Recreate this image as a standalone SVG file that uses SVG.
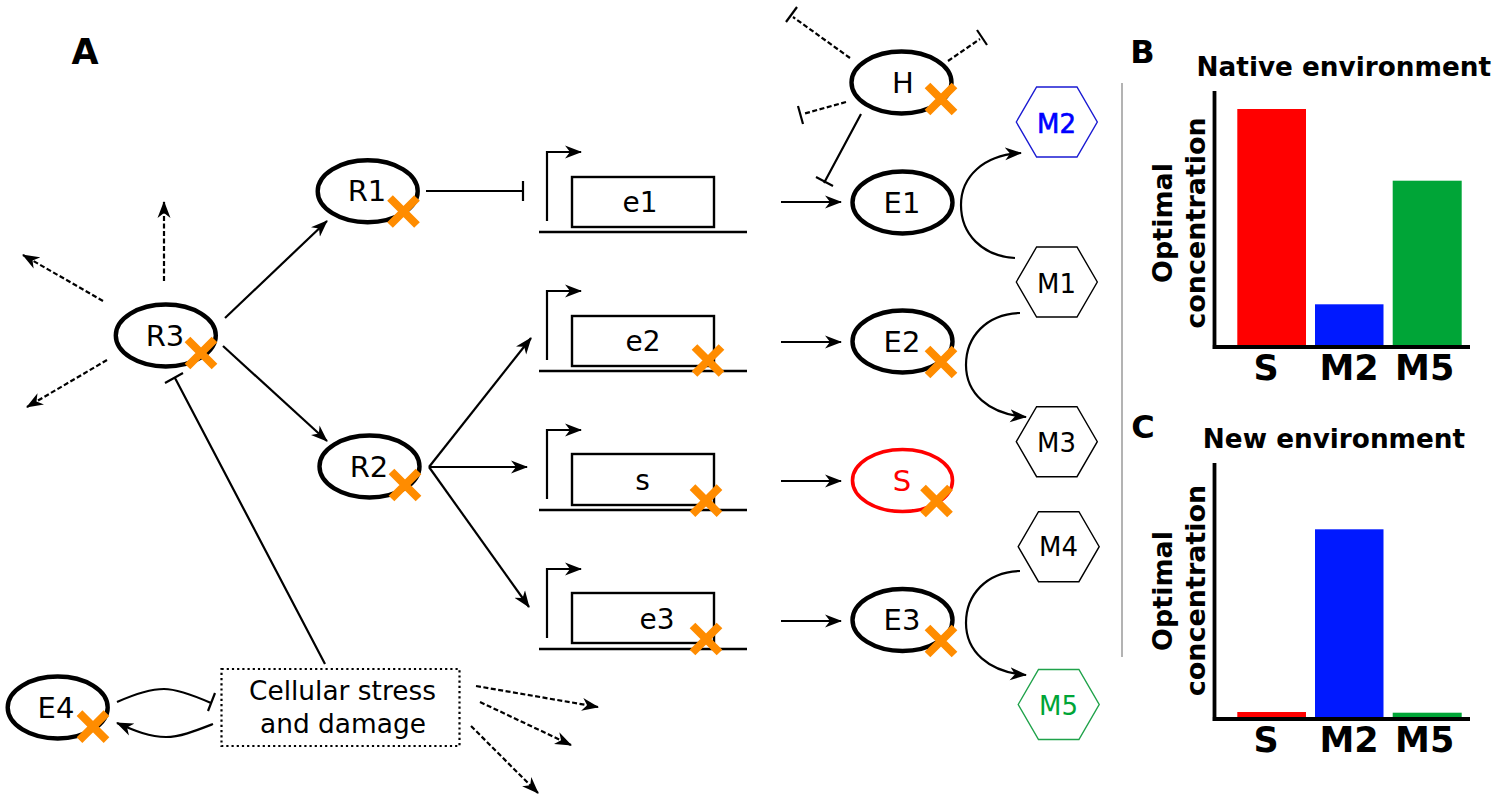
<svg xmlns="http://www.w3.org/2000/svg" width="1497" height="800" viewBox="0 0 1497 800">
<style>
text{font-family:"DejaVu Sans",sans-serif;text-anchor:middle;fill:#000}
.n{font-size:29px}
.m{font-size:26px}
.g{font-size:28px}
.b{font-weight:bold}
.h{font-size:26.300px;font-weight:bold}
.o{font-size:27px;font-weight:bold}
.l{font-size:35px;font-weight:bold}
.el{fill:#fff;stroke:#000;stroke-width:4.400}
.x{stroke:#ff8c00;stroke-width:8;fill:none}
.hex{fill:#fff;stroke:#000;stroke-width:1.400}
.c{fill:none;stroke:#000;stroke-width:2.200}
.d{fill:none;stroke:#000;stroke-width:2.200;stroke-dasharray:5 2.500}
.a{marker-end:url(#ar)}
.gene{fill:#fff;stroke:#000;stroke-width:2.400}
.base{stroke:#000;stroke-width:2.400}
.axis{fill:none;stroke:#000;stroke-width:3.800}
</style>
<defs>
<marker id="ar" viewBox="0 0 18 14" refX="16" refY="7" markerUnits="userSpaceOnUse" markerWidth="18" markerHeight="14" orient="auto"><path d="M0 0.5L17 7L0 13.5L5 7Z" fill="#000"/></marker>
<path id="cross" class="x" d="M-13.500-13.500L13.500 13.500M-13.500 13.500L13.500-13.500"/>
<path id="hx" d="M-40.500 0L-20.200-35H20.200L40.500 0L20.200 35H-20.200Z"/>
</defs>

<g id="connectors">
<path class="c a" d="M225 318L327 221"/>
<path class="c a" d="M223 346L327 441"/>
<path class="d a" d="M164 281V202"/>
<path class="d a" d="M103 301L23 255"/>
<path class="d a" d="M107 360L27 407"/>
<path class="c" d="M426 191H522M523 181V201"/>
<path class="c a" d="M429 467L531 338"/>
<path class="c a" d="M429 467H527"/>
<path class="c a" d="M429 467L529 607"/>
<path class="c a" d="M547 221V152H581"/>
<path class="c a" d="M547 360V291H581"/>
<path class="c a" d="M547 499V430H581"/>
<path class="c a" d="M547 638V569H581"/>
<path class="c a" d="M781 202H841"/>
<path class="c a" d="M781 342H841"/>
<path class="c a" d="M781 481H841"/>
<path class="c a" d="M781 621H841"/>
<path class="c" d="M861 114L824 183M816 177L833 186"/>
<path class="d" d="M850 58L793 17"/>
<path class="c" d="M797 7L786 22"/>
<path class="d" d="M948 61L980 39"/>
<path class="c" d="M977 30L987 45"/>
<path class="d" d="M846 102L803 114"/>
<path class="c" d="M798 106L803 124"/>
<path class="c a" d="M1015 258C982 256 961 234 961 205C961 177 983 155 1021 153"/>
<path class="c a" d="M1020 313C986 314 966 337 966 365C966 393 988 414 1026 417"/>
<path class="c a" d="M1020 571C986 572 966 595 966 623C966 651 988 672 1026 675"/>
<path class="c" d="M325 664L175 378M165 383L183 373"/>
<path class="c" d="M117 702C135 694 150 689 164 689C178 689 195 696 211 703M215 693L208 711"/>
<path class="c a" d="M213 724C195 731 180 737 166 737C150 737 135 731 117 723"/>
<path class="d a" d="M476 686L598 707"/>
<path class="d a" d="M480 702L571 745"/>
<path class="d a" d="M471 726L538 793"/>
</g>

<g id="node-R3"><ellipse class="el" cx="165.800" cy="335.500" rx="50" ry="31"/><text class="n" x="165" y="346">R3</text><use href="#cross" x="201" y="353"/></g>
<g id="node-R1"><ellipse class="el" cx="367.700" cy="191.300" rx="50" ry="31"/><text class="n" x="367" y="201">R1</text><use href="#cross" x="403.500" y="211.500"/></g>
<g id="node-R2"><ellipse class="el" cx="369.500" cy="466.500" rx="50" ry="31"/><text class="n" x="369" y="477">R2</text><use href="#cross" x="405" y="485"/></g>
<g id="node-H"><ellipse class="el" cx="901.500" cy="82.500" rx="50" ry="31"/><text class="n" x="903" y="93">H</text><use href="#cross" x="941" y="99"/></g>
<g id="node-E1"><ellipse class="el" cx="902.500" cy="202.500" rx="50" ry="31"/><text class="n" x="902" y="213">E1</text></g>
<g id="node-E2"><ellipse class="el" cx="902.500" cy="341.500" rx="50" ry="31"/><text class="n" x="902" y="352">E2</text><use href="#cross" x="941" y="362"/></g>
<g id="node-S"><ellipse class="el" cx="902.500" cy="480.500" rx="50" ry="31" style="stroke:#f00;stroke-width:3.600"/><text class="n" x="902" y="491" style="fill:#f00">S</text><use href="#cross" x="936.500" y="501"/></g>
<g id="node-E3"><ellipse class="el" cx="902.500" cy="620" rx="50" ry="31"/><text class="n" x="902" y="630">E3</text><use href="#cross" x="941" y="641"/></g>
<g id="node-E4"><ellipse class="el" cx="57.700" cy="707.500" rx="50" ry="31"/><text class="n" x="56" y="718">E4</text><use href="#cross" x="93" y="726.700"/></g>

<g id="gene-e1"><rect class="gene" x="572" y="177" width="142" height="50"/><path class="base" d="M539 232H747"/><text class="g" x="640" y="212">e1</text></g>
<g id="gene-e2"><rect class="gene" x="572" y="316" width="142" height="50"/><path class="base" d="M539 371H747"/><text class="g" x="643" y="351">e2</text><use href="#cross" x="708" y="360.500"/></g>
<g id="gene-s"><rect class="gene" x="572" y="454" width="142" height="51"/><path class="base" d="M539 510H747"/><text class="g" x="642.500" y="490">s</text><use href="#cross" x="706" y="500.700"/></g>
<g id="gene-e3"><rect class="gene" x="572" y="593" width="142" height="50"/><path class="base" d="M539 649H747"/><text class="g" x="657" y="629">e3</text><use href="#cross" x="706" y="639"/></g>

<g id="node-M2"><use href="#hx" class="hex" x="1056.800" y="122" style="stroke:#1a1ad2"/><text class="m" x="1056.500" y="132.500" style="fill:#00f;stroke:#00f;stroke-width:.6">M2</text></g>
<g id="node-M1"><use href="#hx" class="hex" x="1056.800" y="282"/><text class="m" x="1056.500" y="292.500">M1</text></g>
<g id="node-M3"><use href="#hx" class="hex" x="1056.800" y="441.700"/><text class="m" x="1056.500" y="451.700">M3</text></g>
<g id="node-M4"><use href="#hx" class="hex" x="1058.700" y="546.700"/><text class="m" x="1058.500" y="556">M4</text></g>
<g id="node-M5"><use href="#hx" class="hex" x="1058.700" y="704.500" style="stroke:#1fa24a"/><text class="m" x="1058.500" y="714.500" style="fill:#00a537">M5</text></g>

<g id="node-stress"><rect x="221.500" y="669" width="238" height="77" fill="#fff" stroke="#000" stroke-width="2.200" stroke-dasharray="2.200 3"/><text x="342.500" y="700" style="font-size:26.400px">Cellular stress</text><text x="343" y="733" style="font-size:26.400px">and damage</text></g>

<text x="85" y="64" class="b" style="font-size:35px">A</text>
<text x="1142.500" y="63" class="b" style="font-size:32px">B</text>
<text x="1143" y="438" class="b" style="font-size:32px">C</text>
<path d="M1122 83V657" stroke="#808080" stroke-width="1.200" fill="none"/>

<g id="chart-B">
<text class="h" x="1343.800" y="75.700">Native environment</text>
<rect x="1237.300" y="109" width="68.700" height="238" fill="#f00"/>
<rect x="1315" y="304.300" width="68.500" height="43" fill="#0019ff"/>
<rect x="1392.700" y="180.700" width="69" height="167" fill="#00a537"/>
<path class="axis" d="M1214.500 91V347M1212.500 347H1470"/>
<text class="o" transform="translate(1171.500 223) rotate(-90)">Optimal</text>
<text class="o" transform="translate(1205 223) rotate(-90)">concentration</text>
<text class="l" x="1266" y="379.500">S</text><text class="l" x="1349" y="379.500">M2</text><text class="l" x="1424.700" y="379.500">M5</text>
</g>
<g id="chart-C">
<text class="h" x="1334" y="447.700">New environment</text>
<rect x="1237.300" y="712" width="68.700" height="7" fill="#f00"/>
<rect x="1315" y="529.300" width="68.500" height="189" fill="#0019ff"/>
<rect x="1392.700" y="712.700" width="69" height="6" fill="#00a537"/>
<path class="axis" d="M1214.500 463V719M1212.500 719H1470"/>
<text class="o" transform="translate(1171.500 591) rotate(-90)">Optimal</text>
<text class="o" transform="translate(1205 590.500) rotate(-90)">concentration</text>
<text class="l" x="1266" y="751.700">S</text><text class="l" x="1349" y="751.700">M2</text><text class="l" x="1424.700" y="751.700">M5</text>
</g>
</svg>
